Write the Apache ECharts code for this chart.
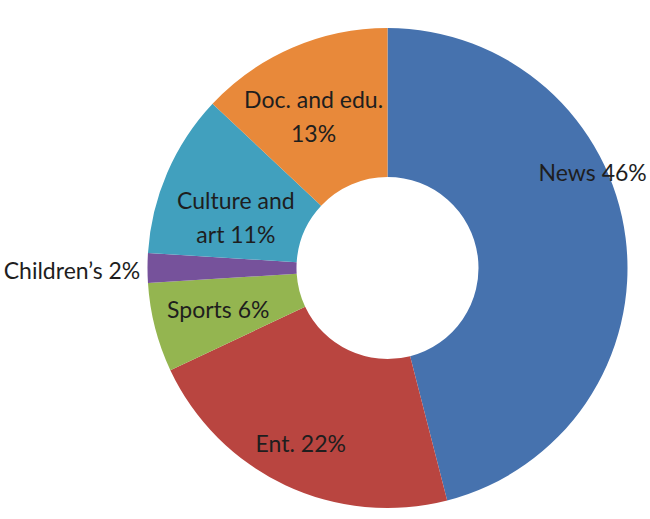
<!DOCTYPE html>
<html>
<head>
<meta charset="utf-8">
<script src="https://cdn.jsdelivr.net/npm/echarts@6/dist/echarts.min.js"></script>
<style>
  html, body { margin: 0; padding: 0; background: #ffffff; overflow: hidden; }
  #chart { width: 650px; height: 519px; }
</style>
</head>
<body>
<div id="chart"></div>
<script>
// Programme genres and their share of airtime (%)
const categories = ['News', 'Ent.', 'Sports', 'Children\u2019s', 'Culture and art', 'Doc. and edu.'];
const shares = [46, 22, 6, 2, 11, 13];

// How each label is broken into lines
const labelTexts = [
  'News 46%',
  'Ent. 22%',
  'Sports 6%',
  'Children\u2019s 2%',
  'Culture and\nart 11%',
  'Doc. and edu.\n13%'
];

const sliceColors = ['#4672AE', '#B94540', '#94B550', '#76529B', '#41A0BE', '#E8893A'];

// Nudges of each label away from the middle of its ring segment
const labelShift = [[38, -75], [-15, 23], [-6, -1], [-147, 2], [3, 16], [-7, 3]];

const chart = echarts.init(document.getElementById('chart'), null, { renderer: 'svg' });

chart.setOption({
  backgroundColor: '#ffffff',
  animation: false,
  series: [{
    type: 'pie',
    center: [387.5, 268],
    radius: [91, 240],
    startAngle: 90,
    clockwise: true,
    avoidLabelOverlap: false,
    silent: true,
    label: {
      show: true,
      position: 'inside',
      color: '#1e1e1e',
      fontFamily: 'Lato',
      fontSize: 23,
      lineHeight: 34,
      formatter: p => labelTexts[p.dataIndex]
    },
    labelLine: { show: false },
    labelLayout: p => ({ dx: labelShift[p.dataIndex][0], dy: labelShift[p.dataIndex][1] }),
    itemStyle: { borderWidth: 0 },
    data: categories.map((name, i) => ({
      name,
      value: shares[i],
      itemStyle: { color: sliceColors[i] }
    }))
  }]
});
</script>
</body>
</html>
